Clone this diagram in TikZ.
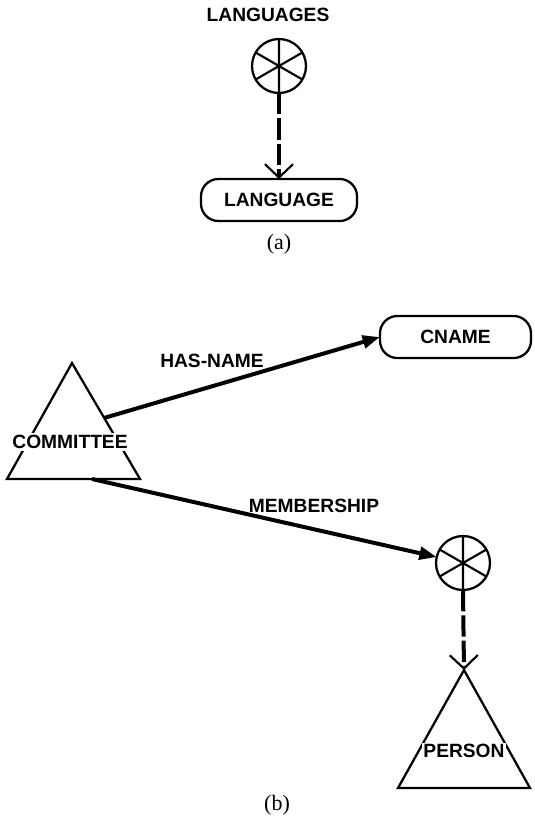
\documentclass[tikz,border=0pt]{standalone}
\usepackage{fontspec}
\setmainfont{Liberation Sans}
\newfontfamily\captionserif{Liberation Serif}
\usetikzlibrary{arrows.meta}
\begin{document}
\begin{tikzpicture}[x=0.75pt,y=-0.75pt,
  lbl/.style={font=\fontsize{14.4}{17}\selectfont\bfseries, inner sep=0pt},
  captiontext/.style={font=\captionserif\fontsize{16.5}{19}\selectfont, inner sep=0pt},
  roundbox/.style={lbl, draw, line width=1.7pt, rounded corners=13pt, minimum height=31.5pt, outer sep=0pt},
  setcircle/.style={draw, circle, line width=1.7pt, minimum size=40.5pt, inner sep=0pt, outer sep=0pt},
  spokes/.style={line width=1.6pt},
  relarrow/.style={line width=3pt, -{Triangle[length=13pt,width=9.5pt]}},
  setarrow/.style={line width=3pt, dash pattern=on 16pt off 3pt,
    -{Straight Barb[length=10pt,width=21pt,line width=1.6pt]}},
  shapeline/.style={line width=1.7pt, line join=miter}
]
\useasboundingbox (0,0) rectangle (535,819);

% ---------- (a) ----------
\node[lbl] (langsName) at (268,15) {LANGUAGES};
\node[setcircle] (langs) at (279,66) {};
\draw[spokes] (langs.90) -- (langs.270) (langs.30) -- (langs.210) (langs.150) -- (langs.330);
\node[roundbox, minimum width=117pt] (language) at (279,200) {LANGUAGE};
\draw[setarrow] (langs.south) -- (language.north);
\node[captiontext] (capA) at (279,244) {(a)};

% ---------- (b) ----------
\coordinate (cmtA) at (72,363);
\coordinate (cmtL) at (7,479);
\coordinate (cmtR) at (140,479);
\coordinate (hasStart) at (104,418);
\coordinate (memStart) at (92,479);
\draw[shapeline] (cmtA) -- (cmtR) -- (cmtL) -- cycle;
\node[lbl, fill=white, inner sep=2pt] (committee) at (70,442) {COMMITTEE};

\node[roundbox, minimum width=113.25pt] (cname) at (455.5,337) {CNAME};
\draw[relarrow] (hasStart) -- (cname.west);
\node[lbl] (hasName) at (212,361) {HAS-NAME};

\node[setcircle] (mset) at (463,563) {};
\draw[spokes] (mset.90) -- (mset.270) (mset.30) -- (mset.210) (mset.150) -- (mset.330);
\draw[relarrow] (memStart) -- (mset);
\node[lbl] (membership) at (314,506) {MEMBERSHIP};

\coordinate (perA) at (464,670);
\coordinate (perL) at (398,788);
\coordinate (perR) at (530,788);
\draw[shapeline] (perA) -- (perR) -- (perL) -- cycle;
\node[lbl, fill=white, inner sep=1pt] (person) at (464,751) {PERSON};
\draw[setarrow] (mset.south) -- (perA);

\node[captiontext] (capB) at (277,805) {(b)};
\end{tikzpicture}
\end{document}
